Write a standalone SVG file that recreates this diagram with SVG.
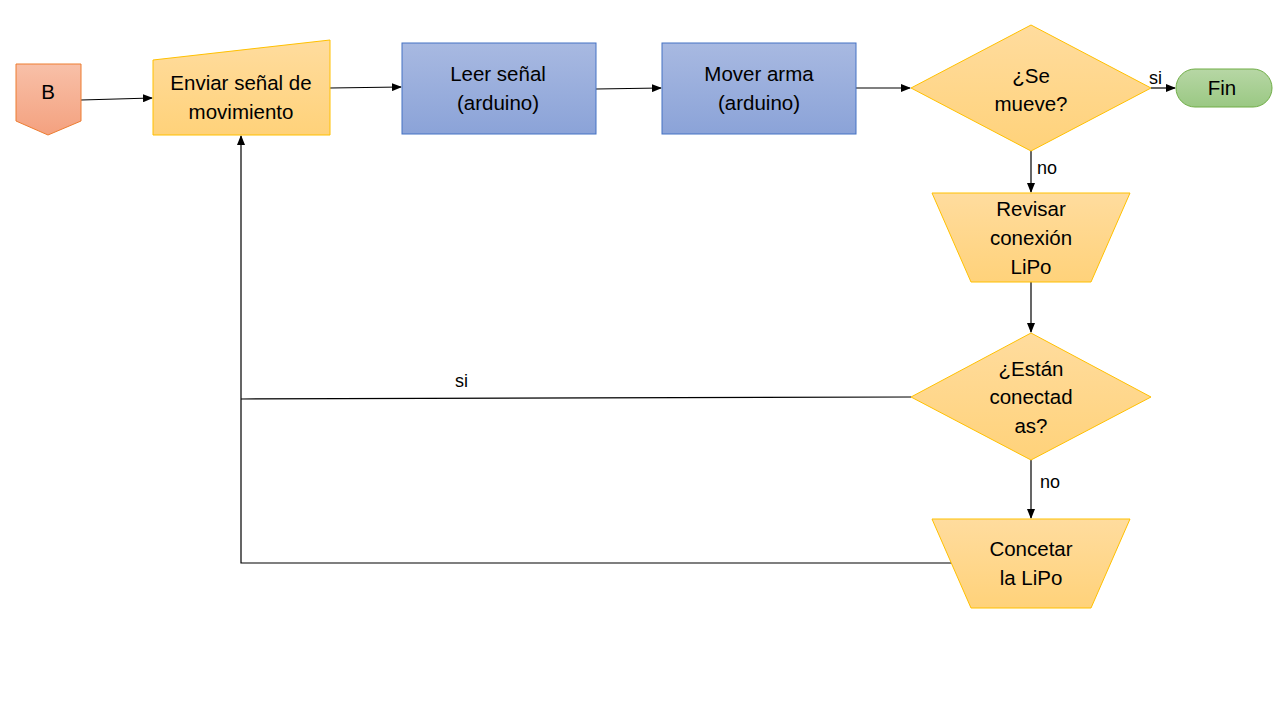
<svg xmlns="http://www.w3.org/2000/svg" width="1280" height="720" viewBox="0 0 1280 720">
<defs>
<linearGradient id="gOr" x1="0" y1="0" x2="0" y2="1"><stop offset="0" stop-color="#FFDC9E"/><stop offset="1" stop-color="#FFD27A"/></linearGradient>
<linearGradient id="gBl" x1="0" y1="0" x2="0" y2="1"><stop offset="0" stop-color="#A8B9E1"/><stop offset="1" stop-color="#8BA3D8"/></linearGradient>
<linearGradient id="gRd" x1="0" y1="0" x2="0" y2="1"><stop offset="0" stop-color="#F8C0A8"/><stop offset="1" stop-color="#F4A17F"/></linearGradient>
<linearGradient id="gGr" x1="0" y1="0" x2="0" y2="1"><stop offset="0" stop-color="#B7D7A5"/><stop offset="1" stop-color="#9AC883"/></linearGradient>
<marker id="arr" markerWidth="10" markerHeight="8" refX="9" refY="4" orient="auto" markerUnits="userSpaceOnUse"><path d="M0,0 L10,4 L0,8 z" fill="#000"/></marker>
</defs>
<style>
text{font-family:"Liberation Sans",Arial,sans-serif;font-size:20.5px;fill:#000;text-anchor:middle}
.lbl{font-size:18px;text-anchor:start}
.or{fill:url(#gOr);stroke:#FFC000;stroke-width:1}
.bl{fill:url(#gBl);stroke:#4472C4;stroke-width:1}
.c{fill:none;stroke:#000;stroke-width:1.2}
.ca{fill:none;stroke:#000;stroke-width:1.2;marker-end:url(#arr)}
</style>
<rect width="1280" height="720" fill="#fff"/>
<g id="connectors">
<line class="ca" x1="81" y1="100" x2="152" y2="98"/>
<line class="ca" x1="330" y1="88" x2="401" y2="87"/>
<line class="ca" x1="596" y1="89" x2="661" y2="88"/>
<line class="ca" x1="856" y1="88" x2="910" y2="88"/>
<line class="ca" x1="1151" y1="88" x2="1175" y2="88"/>
<line class="ca" x1="1031" y1="151" x2="1031" y2="192"/>
<line class="ca" x1="1031" y1="282" x2="1031" y2="332"/>
<line class="ca" x1="1031" y1="460" x2="1031" y2="518"/>
<polyline class="c" points="911,397 241,399"/>
<polyline class="ca" points="951,563 241,563 241,136"/>
<text class="lbl" x="1149" y="84">si</text>
<text class="lbl" x="1037" y="174">no</text>
<text class="lbl" x="1040" y="488">no</text>
<text class="lbl" x="455" y="387">si</text>
</g>
<g id="nB">
<polygon points="16,64 81,64 81,121 48,135 16,121" fill="url(#gRd)" stroke="#ED7D31"/>
<text x="48" y="99">B</text>
</g>
<g id="nEnviar">
<polygon class="or" points="153,60 330,40 330,135 153,135"/>
<text x="241" y="90">Enviar señal de</text>
<text x="241" y="119">movimiento</text>
</g>
<g id="nLeer">
<rect class="bl" x="402" y="43" width="194" height="91"/>
<text x="498" y="81">Leer señal</text>
<text x="498" y="110">(arduino)</text>
</g>
<g id="nMover">
<rect class="bl" x="662" y="43" width="194" height="91"/>
<text x="759" y="81">Mover arma</text>
<text x="759" y="110">(arduino)</text>
</g>
<g id="nSeMueve">
<polygon class="or" points="1031,25 1151,88 1031,151 911,88"/>
<text x="1031" y="83">¿Se</text>
<text x="1031" y="111">mueve?</text>
</g>
<g id="nFin">
<rect x="1176" y="69" width="96" height="38" rx="19" ry="19" fill="url(#gGr)" stroke="#70AD47"/>
<text x="1222" y="95">Fin</text>
</g>
<g id="nRevisar">
<polygon class="or" points="932,193 1130,193 1091,282 971,282"/>
<text x="1031" y="216">Revisar</text>
<text x="1031" y="245">conexión</text>
<text x="1031" y="274">LiPo</text>
</g>
<g id="nEstan">
<polygon class="or" points="1031,333 1151,397 1031,460 911,397"/>
<text x="1031" y="376">¿Están</text>
<text x="1031" y="404">conectad</text>
<text x="1031" y="433">as?</text>
</g>
<g id="nConcetar">
<polygon class="or" points="932,519 1130,519 1091,608 971,608"/>
<text x="1031" y="556">Concetar</text>
<text x="1031" y="585">la LiPo</text>
</g>
</svg>
